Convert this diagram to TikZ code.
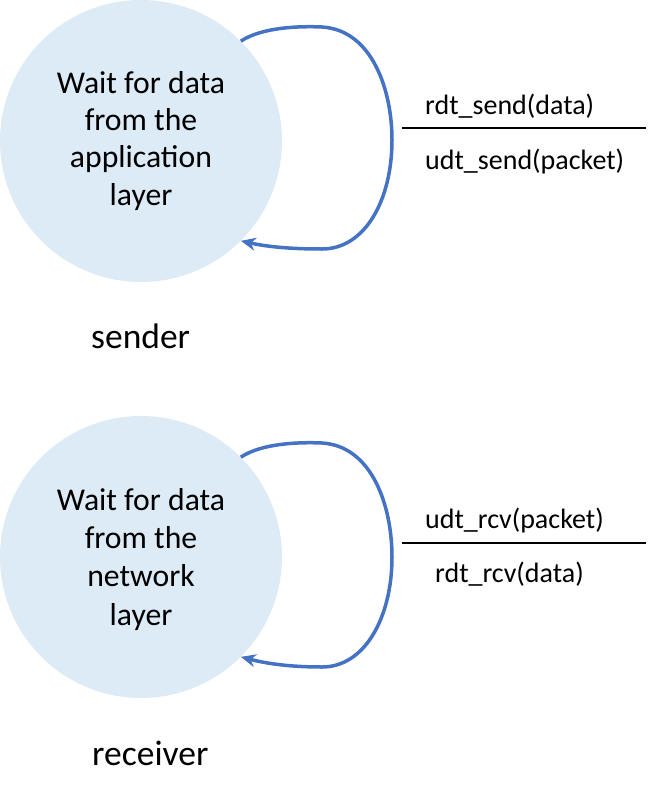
\documentclass[tikz,border=0pt]{standalone}
\usepackage{fontspec}
\setmainfont{Carlito}
\usetikzlibrary{arrows.meta}
\definecolor{circfill}{RGB}{221,235,247}
\definecolor{loopblue}{RGB}{68,114,196}
\begin{document}
\begin{tikzpicture}[x=1pt,y=-1pt,
  state/.style={circle,fill=circfill,draw=none,minimum size=282pt,inner sep=0pt},
  stxt/.style={anchor=base,inner sep=0pt,font=\fontsize{31.7}{38}\selectfont},
  loop/.style={draw=loopblue,line width=3.5pt,-{Stealth[length=15pt,width=13pt]}},
  lbl/.style={anchor=base west,inner sep=0pt,font=\fontsize{28}{32}\selectfont},
  role/.style={anchor=base west,inner sep=0pt,font=\fontsize{35.5}{40}\selectfont},
  bar/.style={draw=black,line width=2.5pt}]
\useasboundingbox (0,0) rectangle (648,800);
% sender
\node[state] (s) at (141,141) {};
\node[stxt] (s1) at (141,93) {Wait for data};
\node[stxt] (s2) at (141,130) {from the};
\node[stxt] (s3) at (141,167.5) {application};
\node[stxt] (s4) at (141,205) {layer};
\draw[loop] (s.45) .. controls (262,27) and (300,26) .. (322,27)
  .. controls (372,30) and (392,90) .. (392,140)
  .. controls (392,200) and (365,249) .. (322,249)
  .. controls (292,249) and (268,247) .. (s.-45);
\coordinate (sbl) at (402,128);
\coordinate (sbr) at (646,128);
\draw[bar] (sbl) -- (sbr);
\node[lbl] (se) at (425,114) {rdt\_send(data)};
\node[lbl] (sa) at (425,169) {udt\_send(packet)};
\node[role] (sr) at (91,348) {sender};
% receiver
\node[state] (r) at (141,557) {};
\node[stxt] (r1) at (141,510) {Wait for data};
\node[stxt] (r2) at (141,548) {from the};
\node[stxt] (r3) at (141,586.5) {network};
\node[stxt] (r4) at (141,625) {layer};
\draw[loop] (r.45) .. controls (262,443) and (300,442) .. (322,443)
  .. controls (372,446) and (392,506) .. (392,557)
  .. controls (392,617) and (365,667) .. (322,667)
  .. controls (292,667) and (268,664) .. (r.-45);
\coordinate (rbl) at (402,543);
\coordinate (rbr) at (646,543);
\draw[bar] (rbl) -- (rbr);
\node[lbl] (re) at (425,528) {udt\_rcv(packet)};
\node[lbl] (ra) at (435,582) {rdt\_rcv(data)};
\node[role] (rr) at (92,765) {receiver};
\end{tikzpicture}
\end{document}
